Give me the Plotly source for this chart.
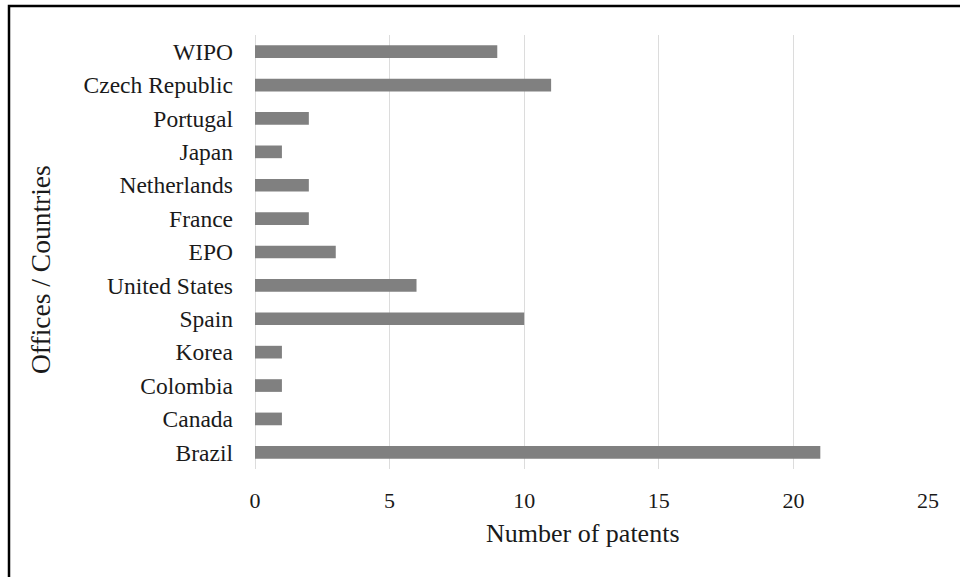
import plotly.graph_objects as go

categories = ["Brazil", "Canada", "Colombia", "Korea", "Spain", "United States",
              "EPO", "France", "Netherlands", "Japan", "Portugal", "Czech Republic", "WIPO"]
patents = [21, 1, 1, 1, 10, 6, 3, 2, 2, 1, 2, 11, 9]
x_ticks = [0, 5, 10, 15, 20, 25]

W, H = 960, 577
ML, MR, MT, MB = 255, 32, 35, 108
PW, PH = W - ML - MR, H - MT - MB

def px_x(p):
    return (p - ML) / PW

def px_y(p):
    return (H - MB - p) / PH

FONT = "Liberation Serif"

fig = go.Figure(go.Bar(
    x=patents, y=categories, orientation="h",
    marker=dict(color="#808080", line=dict(width=0)),
    width=0.38,
))

fig.update_layout(
    width=W, height=H,
    margin=dict(l=ML, r=MR, t=MT, b=MB),
    paper_bgcolor="white", plot_bgcolor="white",
    font=dict(family=FONT, size=22, color="#1a1a1a"),
    showlegend=False,
    xaxis=dict(
        range=[0, 25], tickvals=x_ticks, showgrid=True, gridcolor="#dcdcdc",
        gridwidth=1.3, zeroline=True, zerolinecolor="#dcdcdc", zerolinewidth=1.3,
        showline=False, ticks="", ticklabelstandoff=16,
        tickfont=dict(family=FONT, size=22, color="#1a1a1a"),
    ),
    yaxis=dict(
        categoryorder="array", categoryarray=categories,
        range=[-0.5, len(categories) - 0.5],
        showgrid=False, showline=False, ticks="", ticklabelstandoff=21,
        tickfont=dict(family=FONT, size=23.5, color="#1a1a1a"),
    ),
    annotations=[
        dict(text="Number of patents", xref="paper", yref="paper",
             x=px_x(583), y=px_y(533), showarrow=False,
             font=dict(family=FONT, size=26, color="#1a1a1a"),
             xanchor="center", yanchor="middle"),
        dict(text="Offices / Countries", xref="paper", yref="paper",
             x=px_x(40), y=px_y(270), showarrow=False, textangle=-90,
             font=dict(family=FONT, size=27.5, color="#1a1a1a"),
             xanchor="center", yanchor="middle"),
    ],
    shapes=[
        dict(type="rect", xref="paper", yref="paper",
             x0=px_x(9), x1=px_x(W + 10), y0=px_y(H + 10), y1=px_y(6),
             line=dict(color="black", width=2.5), fillcolor="rgba(0,0,0,0)",
             layer="above"),
    ],
)

fig.write_html("out.html", config={"displayModeBar": False},
               post_script="document.body.style.margin='0';document.body.style.overflow='hidden';")
